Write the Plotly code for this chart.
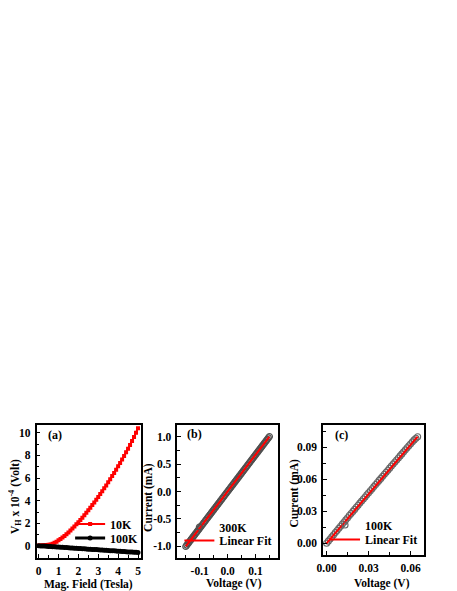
import plotly.graph_objects as go

# ---------------- data ----------------
field_tesla = [0.0, 0.1, 0.2, 0.3, 0.4, 0.5, 0.6, 0.7, 0.8, 0.9,
               1.0, 1.1, 1.2, 1.3, 1.4, 1.5, 1.6, 1.7, 1.8, 1.9,
               2.0, 2.1, 2.2, 2.3, 2.4, 2.5, 2.6, 2.7, 2.8, 2.9,
               3.0, 3.1, 3.2, 3.3, 3.4, 3.5, 3.6, 3.7, 3.8, 3.9,
               4.0, 4.1, 4.2, 4.3, 4.4, 4.5, 4.6, 4.7, 4.8, 4.9, 5.0]
vh_10k = [0.05, 0.05, 0.06, 0.07, 0.08, 0.10, 0.14, 0.20, 0.28, 0.38,
          0.50, 0.62, 0.75, 0.89, 1.04, 1.20, 1.37, 1.54, 1.72, 1.91,
          2.10, 2.30, 2.50, 2.71, 2.93, 3.15, 3.38, 3.61, 3.85, 4.09,
          4.33, 4.58, 4.83, 5.09, 5.35, 5.62, 5.89, 6.17, 6.45, 6.74,
          7.03, 7.33, 7.64, 7.95, 8.27, 8.58, 8.92, 9.27, 9.63, 10.00, 10.40]
vh_100k = [0.02, 0.01, 0.00, -0.01, -0.02, -0.04, -0.05, -0.06, -0.07, -0.08,
           -0.10, -0.11, -0.12, -0.13, -0.14, -0.16, -0.17, -0.18, -0.19, -0.20,
           -0.22, -0.23, -0.24, -0.25, -0.26, -0.28, -0.29, -0.30, -0.31, -0.32,
           -0.34, -0.35, -0.36, -0.37, -0.38, -0.40, -0.41, -0.42, -0.43, -0.44,
           -0.46, -0.47, -0.48, -0.49, -0.50, -0.52, -0.53, -0.54, -0.55, -0.56, -0.58]

voltage_300k = [-0.15, -0.14625, -0.1425, -0.13875, -0.135, -0.13125, -0.1275, -0.12375,
                -0.12, -0.11625, -0.1125, -0.10875, -0.105, -0.10125, -0.0975, -0.09375,
                -0.09, -0.08625, -0.0825, -0.07875, -0.075, -0.07125, -0.0675, -0.06375,
                -0.06, -0.05625, -0.0525, -0.04875, -0.045, -0.04125, -0.0375, -0.03375,
                -0.03, -0.02625, -0.0225, -0.01875, -0.015, -0.01125, -0.0075, -0.00375,
                0.0, 0.00375, 0.0075, 0.01125, 0.015, 0.01875, 0.0225, 0.02625,
                0.03, 0.03375, 0.0375, 0.04125, 0.045, 0.04875, 0.0525, 0.05625,
                0.06, 0.06375, 0.0675, 0.07125, 0.075, 0.07875, 0.0825, 0.08625,
                0.09, 0.09375, 0.0975, 0.10125, 0.105, 0.10875, 0.1125, 0.11625,
                0.12, 0.12375, 0.1275, 0.13125, 0.135, 0.13875, 0.1425, 0.14625, 0.15]
current_300k = [-1.0, -0.975, -0.95, -0.925, -0.9, -0.875, -0.85, -0.825,
                -0.8, -0.775, -0.75, -0.725, -0.7, -0.675, -0.65, -0.625,
                -0.6, -0.575, -0.55, -0.525, -0.5, -0.475, -0.45, -0.425,
                -0.4, -0.375, -0.35, -0.325, -0.3, -0.275, -0.25, -0.225,
                -0.2, -0.175, -0.15, -0.125, -0.1, -0.075, -0.05, -0.025,
                0.0, 0.025, 0.05, 0.075, 0.1, 0.125, 0.15, 0.175,
                0.2, 0.225, 0.25, 0.275, 0.3, 0.325, 0.35, 0.375,
                0.4, 0.425, 0.45, 0.475, 0.5, 0.525, 0.55, 0.575,
                0.6, 0.625, 0.65, 0.675, 0.7, 0.725, 0.75, 0.775,
                0.8, 0.825, 0.85, 0.875, 0.9, 0.925, 0.95, 0.975, 1.0]
fit_voltage_300k = [-0.15, 0.15]
fit_current_300k = [-1.0, 1.0]

voltage_100k = [0.0, 0.00125, 0.0025, 0.00375, 0.005, 0.00625, 0.0075, 0.00875,
                0.01, 0.01125, 0.0125, 0.01375, 0.015, 0.01625, 0.0175, 0.01875,
                0.02, 0.02125, 0.0225, 0.02375, 0.025, 0.02625, 0.0275, 0.02875,
                0.03, 0.03125, 0.0325, 0.03375, 0.035, 0.03625, 0.0375, 0.03875,
                0.04, 0.04125, 0.0425, 0.04375, 0.045, 0.04625, 0.0475, 0.04875,
                0.05, 0.05125, 0.0525, 0.05375, 0.055, 0.05625, 0.0575, 0.05875,
                0.06, 0.06125, 0.0625, 0.06375, 0.065]
current_100k = [0.0, 0.0020, 0.0040, 0.0060, 0.0080, 0.0100, 0.0120, 0.0140,
                0.0160, 0.0180, 0.0200, 0.0220, 0.0240, 0.0260, 0.0280, 0.0299,
                0.0318, 0.0338, 0.0357, 0.0377, 0.0396, 0.0416, 0.0435, 0.0455,
                0.0474, 0.0493, 0.0512, 0.0532, 0.0551, 0.0571, 0.0590, 0.0609,
                0.0628, 0.0648, 0.0667, 0.0686, 0.0705, 0.0725, 0.0744, 0.0763,
                0.0782, 0.0801, 0.0820, 0.0839, 0.0858, 0.0877, 0.0896, 0.0915,
                0.0934, 0.0952, 0.0970, 0.0985, 0.1000]
fit_voltage_100k = [0.0, 0.065]
fit_current_100k = [0.0, 0.1]

a_xticks = [0, 1, 2, 3, 4, 5]
a_yticks = [0, 2, 4, 6, 8, 10]
b_xticks = [-0.1, 0.0, 0.1]
b_xlabels = ["-0.1", "0.0", "0.1"]
b_yticks = [-1.0, -0.5, 0.0, 0.5, 1.0]
b_ylabels = ["-1.0", "-0.5", "0.0", "0.5", "1.0"]
c_xticks = [0.0, 0.03, 0.06]
c_xlabels = ["0.00", "0.03", "0.06"]
c_yticks = [0.0, 0.03, 0.06, 0.09]
c_ylabels = ["0.00", "0.03", "0.06", "0.09"]

# ---------------- layout helpers ----------------
# the page places the figure a few pixels in from the window corner
OFFX, OFFY = 12, 8
W, H = 457 - OFFX, 591 - OFFY
FONT = "Liberation Serif"


def fx(px):
    return (px - OFFX) / W


def fy(py):
    return (H - (py - OFFY)) / H


fig = go.Figure()

# panel (a)
fig.add_trace(go.Scatter(x=field_tesla, y=vh_10k, mode="lines+markers", name="10K",
                         line=dict(color="#ff0000", width=2),
                         marker=dict(symbol="square", size=4, color="#ff0000"),
                         xaxis="x", yaxis="y", legend="legend"))
fig.add_trace(go.Scatter(x=field_tesla, y=vh_100k, mode="lines+markers", name="100K",
                         line=dict(color="#000000", width=3),
                         marker=dict(symbol="circle", size=5, color="#000000"),
                         xaxis="x", yaxis="y", legend="legend2"))
# panel (b)
fig.add_trace(go.Scatter(x=voltage_300k, y=current_300k, mode="markers", name="300K",
                         marker=dict(symbol="circle-open", size=6, color="#505050",
                                     line=dict(width=1.2, color="#505050")),
                         xaxis="x2", yaxis="y2", legend="legend3"))
fig.add_trace(go.Scatter(x=fit_voltage_300k, y=fit_current_300k, mode="lines", name="Linear Fit",
                         line=dict(color="#ff0000", width=2),
                         xaxis="x2", yaxis="y2", legend="legend4"))
# panel (c)
fig.add_trace(go.Scatter(x=voltage_100k, y=current_100k, mode="markers", name="100K",
                         marker=dict(symbol="circle-open", size=6, color="#666666",
                                     line=dict(width=1.1, color="#666666")),
                         xaxis="x3", yaxis="y3", legend="legend5"))
fig.add_trace(go.Scatter(x=fit_voltage_100k, y=fit_current_100k, mode="lines", name="Linear Fit",
                         line=dict(color="#ff0000", width=2),
                         xaxis="x3", yaxis="y3", legend="legend6"))

tickfont = dict(family=FONT, size=11.5, color="black", weight="bold")


def axis(domain, anchor, rng, **kw):
    d = dict(domain=domain, anchor=anchor, range=rng, showline=True, linecolor="black",
             linewidth=1.5, mirror=True, ticks="inside", ticklen=4, tickwidth=1,
             tickcolor="black", showgrid=False, zeroline=False, tickfont=tickfont,
             ticklabelstandoff=2,
             minor=dict(ticks="inside", ticklen=3, tickwidth=1, tickcolor="black", showgrid=False))
    d.update(kw)
    return d


ydom_ab = [fy(558), fy(425)]
ydom_c = [fy(555), fy(425)]

fig.update_layout(
    width=W, height=H, margin=dict(l=0, r=0, t=0, b=0),
    paper_bgcolor="white", plot_bgcolor="white", showlegend=True,
    xaxis=axis([fx(34), fx(140)], "y", [-0.1, 5.15], tickvals=a_xticks,
               minor_dtick=0.5, ticklabelstandoff=1),
    yaxis=axis(ydom_ab, "x", [-1.06, 10.68], tickvals=a_yticks, minor_dtick=1),
    xaxis2=axis([fx(177), fx(279)], "y2", [-0.18, 0.18], tickvals=b_xticks,
                ticktext=b_xlabels, minor_dtick=0.05, minor_tick0=0, ticklabelstandoff=1),
    yaxis2=axis(ydom_ab, "x2", [-1.21, 1.21], tickvals=b_yticks, ticktext=b_ylabels,
                minor_dtick=0.25, minor_tick0=0),
    xaxis3=axis([fx(325), fx(427.5)], "y3", [-0.0025, 0.0695], tickvals=c_xticks,
                ticktext=c_xlabels, minor_dtick=0.015, minor_tick0=0, ticklabelstandoff=1),
    yaxis3=axis(ydom_c, "x3", [-0.011, 0.111], tickvals=c_yticks, ticktext=c_ylabels,
                minor_dtick=0.015, minor_tick0=0),
)

legfont = dict(family=FONT, size=12, color="black", weight="bold")


def leg(xpx, ypx):
    return dict(x=fx(xpx), y=fy(ypx), xanchor="left", yanchor="middle",
                bgcolor="rgba(0,0,0,0)", borderwidth=0, font=legfont)


fig.update_layout(
    legend=leg(68, 524), legend2=leg(68, 538),
    legend3=leg(179, 527), legend4=leg(179, 540.5),
    legend5=leg(327, 525), legend6=leg(327, 539.5),
)

labfont = dict(family=FONT, size=12, color="black", weight="bold")
titlefont = dict(family=FONT, size=11.5, color="black", weight="bold")
annots = [
    dict(text="(a)", x=fx(43), y=fy(435), xanchor="left", yanchor="middle", font=labfont),
    dict(text="(b)", x=fx(185), y=fy(434), xanchor="left", yanchor="middle", font=labfont),
    dict(text="(c)", x=fx(335), y=fy(435), xanchor="left", yanchor="middle", font=labfont),
    dict(text="Mag. Field (Tesla)", x=fx(87), y=fy(584), xanchor="center", yanchor="middle", font=titlefont),
    dict(text="Voltage (V)", x=fx(234), y=fy(583.5), xanchor="center", yanchor="middle", font=titlefont),
    dict(text="Voltage (V)", x=fx(385), y=fy(583), xanchor="center", yanchor="middle", font=titlefont),
    dict(text="V<sub>H</sub> x 10<sup>-4</sup> (Volt)", x=fx(12), y=fy(497), textangle=-90,
         xanchor="center", yanchor="middle", font=titlefont),
    dict(text="Current (mA)", x=fx(147), y=fy(497), textangle=-90,
         xanchor="center", yanchor="middle", font=titlefont),
    dict(text="Current (mA)", x=fx(295), y=fy(493), textangle=-90,
         xanchor="center", yanchor="middle", font=titlefont),
]
for a in annots:
    a.update(xref="paper", yref="paper", showarrow=False)
fig.update_layout(annotations=annots)

fig.write_html("out.html")
